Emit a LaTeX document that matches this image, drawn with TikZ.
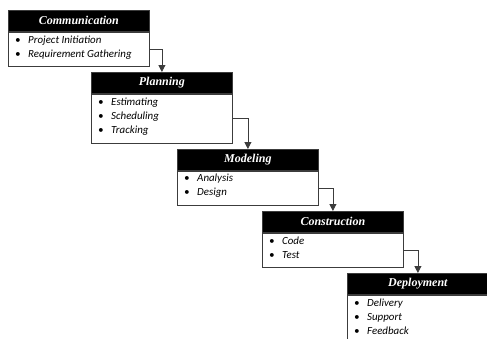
\documentclass[tikz,border=0pt]{standalone}
\usepackage{fontspec}
\newfontfamily\headfont{Liberation Serif}
\newfontfamily\itemfont{Carlito}
\usetikzlibrary{arrows.meta}
\definecolor{edge}{RGB}{60,60,60}
\begin{document}
\begin{tikzpicture}[x=1pt,y=-1pt,
  head/.style={rectangle,fill=black,draw=edge,line width=0.8pt,minimum width=141pt,minimum height=21pt,inner sep=0pt,anchor=north west,text=white,font=\headfont\bfseries\itshape\fontsize{12}{14}\selectfont},
  body/.style={rectangle,fill=white,draw=edge,line width=0.8pt,minimum width=141pt,inner sep=0pt,anchor=north west},
  item/.style={anchor=base west,inner sep=0pt,font=\itemfont\itshape\fontsize{10.9}{14}\selectfont},
  arr/.style={draw=edge,line width=0.8pt,-{Triangle[length=7pt,width=7pt]}}]
\useasboundingbox (0,0) rectangle (487,338);
\clip (0,0) rectangle (487,338);
% Communication
\node[head] (h1) at (8,10) {Communication};
\node[body,minimum height=34pt] (b1) at (h1.south west) {};
\node[item] (i11) at (15,43) {\makebox[13pt][l]{\textbullet}Project Initiation};
\node[item] (i12) at (15,57) {\makebox[13pt][l]{\textbullet}Requirement Gathering};
% Planning
\node[head] (h2) at (91,72) {Planning};
\node[body,minimum height=49pt] (b2) at (h2.south west) {};
\node[item] (i21) at (98,105) {\makebox[13pt][l]{\textbullet}Estimating};
\node[item] (i22) at (98,119) {\makebox[13pt][l]{\textbullet}Scheduling};
\node[item] (i23) at (98,133) {\makebox[13pt][l]{\textbullet}Tracking};
% Modeling
\node[head] (h3) at (177,149) {Modeling};
\node[body,minimum height=34pt] (b3) at (h3.south west) {};
\node[item] (i31) at (184,181) {\makebox[13pt][l]{\textbullet}Analysis};
\node[item] (i32) at (184,195) {\makebox[13pt][l]{\textbullet}Design};
% Construction
\node[head] (h4) at (262,211) {Construction};
\node[body,minimum height=34pt] (b4) at (h4.south west) {};
\node[item] (i41) at (269,244) {\makebox[13pt][l]{\textbullet}Code};
\node[item] (i42) at (269,258) {\makebox[13pt][l]{\textbullet}Test};
% Deployment
\node[head] (h5) at (347,273) {Deployment};
\node[body,minimum height=60pt] (b5) at (h5.south west) {};
\node[item] (i51) at (354,306) {\makebox[13pt][l]{\textbullet}Delivery};
\node[item] (i52) at (354,320) {\makebox[13pt][l]{\textbullet}Support};
\node[item] (i53) at (354,334) {\makebox[13pt][l]{\textbullet}Feedback};
% connectors
\draw[arr] (b1.east) -| (h2.north);
\draw[arr] (b2.east) -| (h3.north);
\draw[arr] (b3.east) -| (h4.north);
\draw[arr] (b4.east) -| (h5.north);
\end{tikzpicture}
\end{document}
